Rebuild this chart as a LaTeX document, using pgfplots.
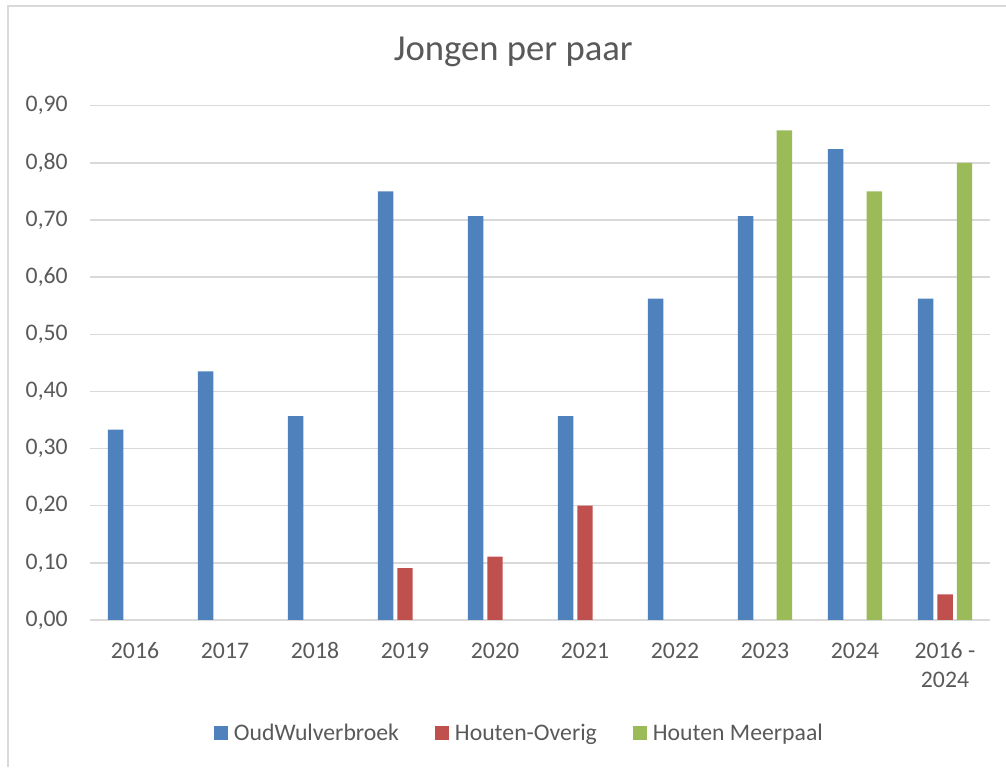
\documentclass[border=0pt]{standalone}
\usepackage{pgfplots}
\pgfplotsset{compat=1.18}
\usepackage{fontspec}
\setmainfont{Carlito}
\definecolor{cblue}{HTML}{4F81BD}
\definecolor{cred}{HTML}{C0504D}
\definecolor{cgreen}{HTML}{9BBB59}
\definecolor{ctext}{HTML}{595959}
\definecolor{cgrid}{HTML}{D9D9D9}
\newcommand{\xs}{\rule{0pt}{14pt}}
\begin{document}
\begin{tikzpicture}
\useasboundingbox (0,0) rectangle (754.5pt,575.25pt);
\draw[cgrid, line width=1.2pt] (6pt,0pt) -- (6pt,570.75pt) -- (754.5pt,570.75pt);
\node[anchor=base, text=ctext, font=\fontsize{27.5}{33}\selectfont, inner sep=0pt] at (385pt,529.5pt) {Jongen per paar};
\begin{axis}[
  at={(67.5pt,110.25pt)}, anchor=south west,
  scale only axis, width=675pt, height=385.7pt,
  xmin=-0.5, xmax=9.5, ymin=0, ymax=0.9,
  ybar=3pt, bar width=11.6pt,
  legend image code/.code={\fill[#1] (0pt,-5.25pt) rectangle (10.5pt,5.25pt);},
  axis line style={draw=none},
  major tick length=0pt,
  ymajorgrids, major grid style={cgrid, line width=1.1pt},
  ytick={0,0.1,0.2,0.3,0.4,0.5,0.6,0.7,0.8,0.9},
  yticklabel={\pgfmathprintnumber[fixed,fixed zerofill,precision=2,use comma,assume math mode=true]{\tick}},
  yticklabel style={anchor=east, inner sep=0pt, xshift=-16.5pt, text=ctext, font=\fontsize{17.8}{21}\selectfont},
  xtick={0,1,2,3,4,5,6,7,8,9},
  xticklabels={{\xs 2016},{\xs 2017},{\xs 2018},{\xs 2019},{\xs 2020},{\xs 2021},{\xs 2022},{\xs 2023},{\xs 2024},{\xs 2016 -\\2024}},
  xticklabel style={anchor=north, inner sep=0pt, yshift=-14.5pt, align=center, text=ctext, font=\fontsize{17.8}{21.75}\selectfont},
  legend columns=-1,
  legend style={draw=none, fill=none, at={(0.476,-0.2197)}, anchor=center,
    font=\fontsize{17.8}{21}\selectfont, text=ctext,
    nodes={inner sep=0pt},
    /tikz/every odd column/.append style={column sep=4.5pt},
    /tikz/every even column/.append style={column sep=27pt}},
]
\addplot[draw=none, fill=cblue] coordinates {(0,0.333) (1,0.435) (2,0.357) (3,0.75) (4,0.707) (5,0.357) (6,0.5625) (7,0.707) (8,0.824) (9,0.5625)};
\addplot[draw=none, fill=cred] coordinates {(3,0.091) (4,0.111) (5,0.2) (9,0.045)};
\addplot[draw=none, fill=cgreen] coordinates {(7,0.857) (8,0.75) (9,0.80)};
\legend{OudWulverbroek,Houten-Overig,Houten Meerpaal}
\end{axis}
\end{tikzpicture}
\end{document}
